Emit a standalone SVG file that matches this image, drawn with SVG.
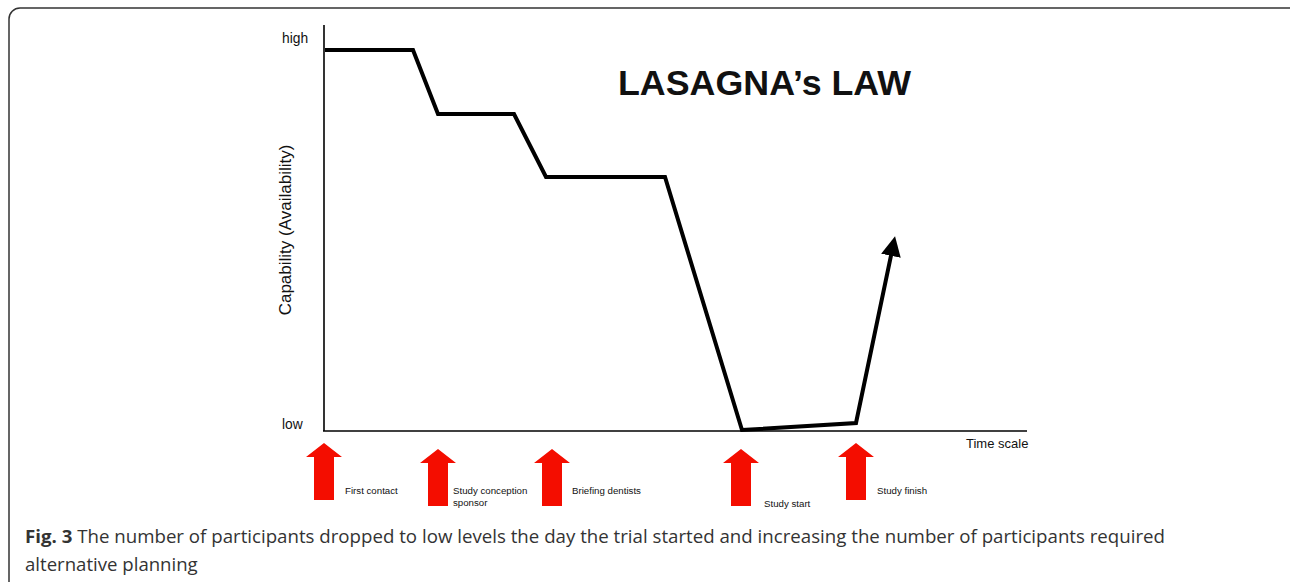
<svg xmlns="http://www.w3.org/2000/svg" width="1290" height="582" viewBox="0 0 1290 582">
<style>
.ax{stroke:#000;stroke-width:1.6;fill:none}
.curve{stroke:#000;stroke-width:4;fill:none;stroke-linejoin:miter}
.lbl{font-family:"Liberation Sans",Arial,sans-serif;fill:#111}
.sm{font-family:"Liberation Sans",Arial,sans-serif;font-size:9.7px;fill:#111}
.red{fill:#f40d00}
.cap{font-family:"Open Sans","Noto Sans",sans-serif;font-size:18.6px;fill:#333}
</style>
<defs>
<marker id="ah" markerWidth="5" markerHeight="5" refX="2.5" refY="2.5" orient="auto" markerUnits="strokeWidth">
<path d="M0,0 L5,2.5 L0,5 z" fill="#000"/>
</marker>
<path id="redArrow" d="M0,0 L18,14 L10,14 L10,57 L-10,57 L-10,14 L-18,14 z"/>
</defs>
<rect x="9" y="8" width="1300" height="590" rx="11" fill="#fff" stroke="#333" stroke-width="1.5"/>
<g id="axes">
<line class="ax" x1="324" y1="25" x2="324" y2="431"/>
<line class="ax" x1="323" y1="431" x2="1027" y2="431"/>
<text class="lbl" x="282" y="43" font-size="13.8">high</text>
<text class="lbl" x="282" y="429" font-size="13.8">low</text>
<text class="lbl" x="966" y="448" font-size="13">Time scale</text>
<text class="lbl" font-size="17" transform="translate(291,230) rotate(-90)" text-anchor="middle">Capability (Availability)</text>
</g>
<g id="title">
<text class="lbl" x="618" y="95" font-size="35.8" font-weight="bold" fill="#000">LASAGNA’s LAW</text>
</g>
<g id="connectors">
<polyline class="curve" points="325,50 413,50 438,114 514,114 546,177 665,177 742,430 856,423 893,246" marker-end="url(#ah)"/>
</g>
<g id="first-contact">
<use href="#redArrow" class="red" transform="translate(324,443)"/>
<text class="sm" x="345" y="494">First contact</text>
</g>
<g id="study-conception">
<use href="#redArrow" class="red" transform="translate(438,449)"/>
<text class="sm" x="453" y="494">Study conception</text>
<text class="sm" x="453" y="506">sponsor</text>
</g>
<g id="briefing">
<use href="#redArrow" class="red" transform="translate(552,449)"/>
<text class="sm" x="572" y="494">Briefing dentists</text>
</g>
<g id="study-start">
<use href="#redArrow" class="red" transform="translate(741,449)"/>
<text class="sm" x="764" y="507">Study start</text>
</g>
<g id="study-finish">
<use href="#redArrow" class="red" transform="translate(856,443)"/>
<text class="sm" x="877" y="494">Study finish</text>
</g>
<g id="caption">
<text class="cap" x="25" y="543" textLength="1140" lengthAdjust="spacingAndGlyphs"><tspan font-weight="bold">Fig. 3</tspan> The number of participants dropped to low levels the day the trial started and increasing the number of participants required</text>
<text class="cap" x="25" y="571">alternative planning</text>
</g>
</svg>
